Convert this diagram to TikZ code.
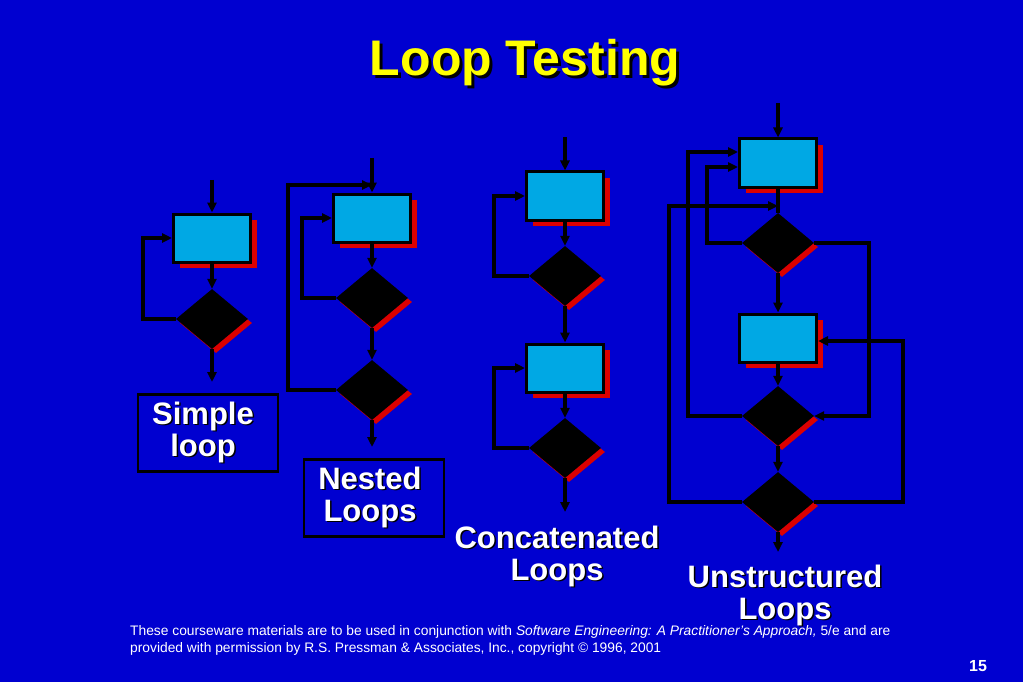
\documentclass[tikz,border=0pt]{standalone}
\usepackage{fontspec}
\setmainfont{Liberation Sans}
\usetikzlibrary{shapes.geometric,shadows,arrows.meta}
\definecolor{bgblue}{RGB}{0,0,208}
\definecolor{boxcyan}{RGB}{0,168,228}
\definecolor{shred}{RGB}{220,0,0}
\definecolor{ttl}{RGB}{255,255,0}
\begin{document}
\begin{tikzpicture}[x=1pt,y=-1pt,
  proc/.style={draw=black,line width=3pt,fill=boxcyan,minimum width=77pt,minimum height=48pt,inner sep=0,
     general shadow={fill=shred,shadow xshift=6pt,shadow yshift=-6pt}},
  dec/.style={diamond,fill=black,minimum width=72pt,minimum height=60pt,inner sep=0,
     general shadow={fill=shred,shadow xshift=4pt,shadow yshift=-4pt}},
  ln/.style={draw=black,line width=3.2pt},
  ar/.style={ln,-{Triangle[length=10pt,width=9pt]}},
  lbl/.style={draw=black,line width=2.5pt,minimum width=140pt,minimum height=77pt},
  wt/.style={text=white,font=\bfseries\fontsize{31}{32}\selectfont,align=center}]
\fill[bgblue] (0,0) rectangle (1023,682);
\useasboundingbox (0,0) rectangle (1023,682);
% title
\node[text=black,font=\bfseries\fontsize{50}{56}\selectfont] at (528,66) {Loop Testing};
\node (title) [text=ttl,font=\bfseries\fontsize{50}{56}\selectfont] at (525,63) {Loop Testing};
% ---------- simple
\coordinate (s0) at (212,180);
\node[proc] (s1) at (212,238) {};
\node[dec] (s2) at (212,319) {};
\coordinate (s3) at (212,382);
\draw[ar] (s0) -- (s1.north);
\draw[ar] (s1.south) -- (s2.north);
\draw[ar] (s2.south) -- (s3);
\draw[ar] (s2.west) -- (143,319) |- (s1.west);
\node[lbl] (sl) at (208,433) {};
\node[wt] at (204.5,433.5) {\textcolor{black}{Simple}\\\textcolor{black}{loop}};
\node[wt] at (203,432) {Simple\\loop};
% ---------- nested
\coordinate (n0) at (372,158);
\node[proc] (n1) at (372,218) {};
\node[dec] (n2) at (372,298) {};
\node[dec] (n3) at (372,390) {};
\coordinate (n4) at (372,447);
\draw[ar] (n0) -- (n1.north);
\draw[ar] (n1.south) -- (n2.north);
\draw[ar] (n2.south) -- (n3.north);
\draw[ar] (n3.south) -- (n4);
\draw[ar] (n2.west) -- (302,298) |- (n1.west);
\draw[ar] (n3.west) -- (288,390) |- (372,185);
\node[lbl] (nl) at (374,498) {};
\node[wt] at (371.5,498.5) {\textcolor{black}{Nested}\\\textcolor{black}{Loops}};
\node[wt] at (370,497) {Nested\\Loops};
% ---------- concatenated
\coordinate (c0) at (565,137);
\node[proc] (c1) at (565,196) {};
\node[dec] (c2) at (565,276) {};
\node[proc] (c3) at (565,368) {};
\node[dec] (c4) at (565,448) {};
\coordinate (c5) at (565,512);
\draw[ar] (c0) -- (c1.north);
\draw[ar] (c1.south) -- (c2.north);
\draw[ar] (c2.south) -- (c3.north);
\draw[ar] (c3.south) -- (c4.north);
\draw[ar] (c4.south) -- (c5);
\draw[ar] (c2.west) -- (494,276) |- (c1.west);
\draw[ar] (c4.west) -- (494,448) |- (c3.west);
\node[wt] at (558.5,557.5) {\textcolor{black}{Concatenated}\\\textcolor{black}{Loops}};
\node[wt] (cl) at (557,556) {Concatenated\\Loops};
% ---------- unstructured
\coordinate (u0) at (778,103);
\node[proc] (u1) at (778,163) {};
\node[dec] (u2) at (778,243) {};
\node[proc] (u3) at (778,338) {};
\node[dec] (u4) at (778,416) {};
\node[dec] (u5) at (778,502) {};
\coordinate (u6) at (778,552);
\draw[ar] (u0) -- (u1.north);
\draw[ln] (u1.south) -- (u2.north);
\draw[ar] (u2.south) -- (u3.north);
\draw[ar] (u3.south) -- (u4.north);
\draw[ar] (u4.south) -- (u5.north);
\draw[ar] (u5.south) -- (u6);
\draw[ar] (u2.west) -- (707,243) |- (u1.west |- 0,167);
\draw[ar] (u4.west) -- (688,416) |- (u1.west |- 0,152);
\draw[ar] (u5.west) -- (669,502) |- (778,206);
\draw[ar] (u2.east) -- (869,243) |- (u4.east);
\draw[ar] (u5.east) -- (903,502) |- (u3.east |- 0,341);
\node[wt] at (786.5,596.5) {\textcolor{black}{Unstructured}\\\textcolor{black}{Loops}};
\node[wt] (ul) at (785,595) {Unstructured\\Loops};
% footer
\node[anchor=north west,text=white,font=\fontsize{13.8}{17}\selectfont,align=left,inner sep=0] (ft) at (130,625)
 {These courseware materials are to be used in conjunction with \textit{Software Engineering: A Practitioner’s Approach,} 5/e and are\\
  provided with permission by R.S. Pressman \& Associates, Inc., copyright © 1996, 2001};
\node[text=white,font=\bfseries\fontsize{16}{18}\selectfont] (pg) at (978,666) {15};
\end{tikzpicture}
\end{document}
